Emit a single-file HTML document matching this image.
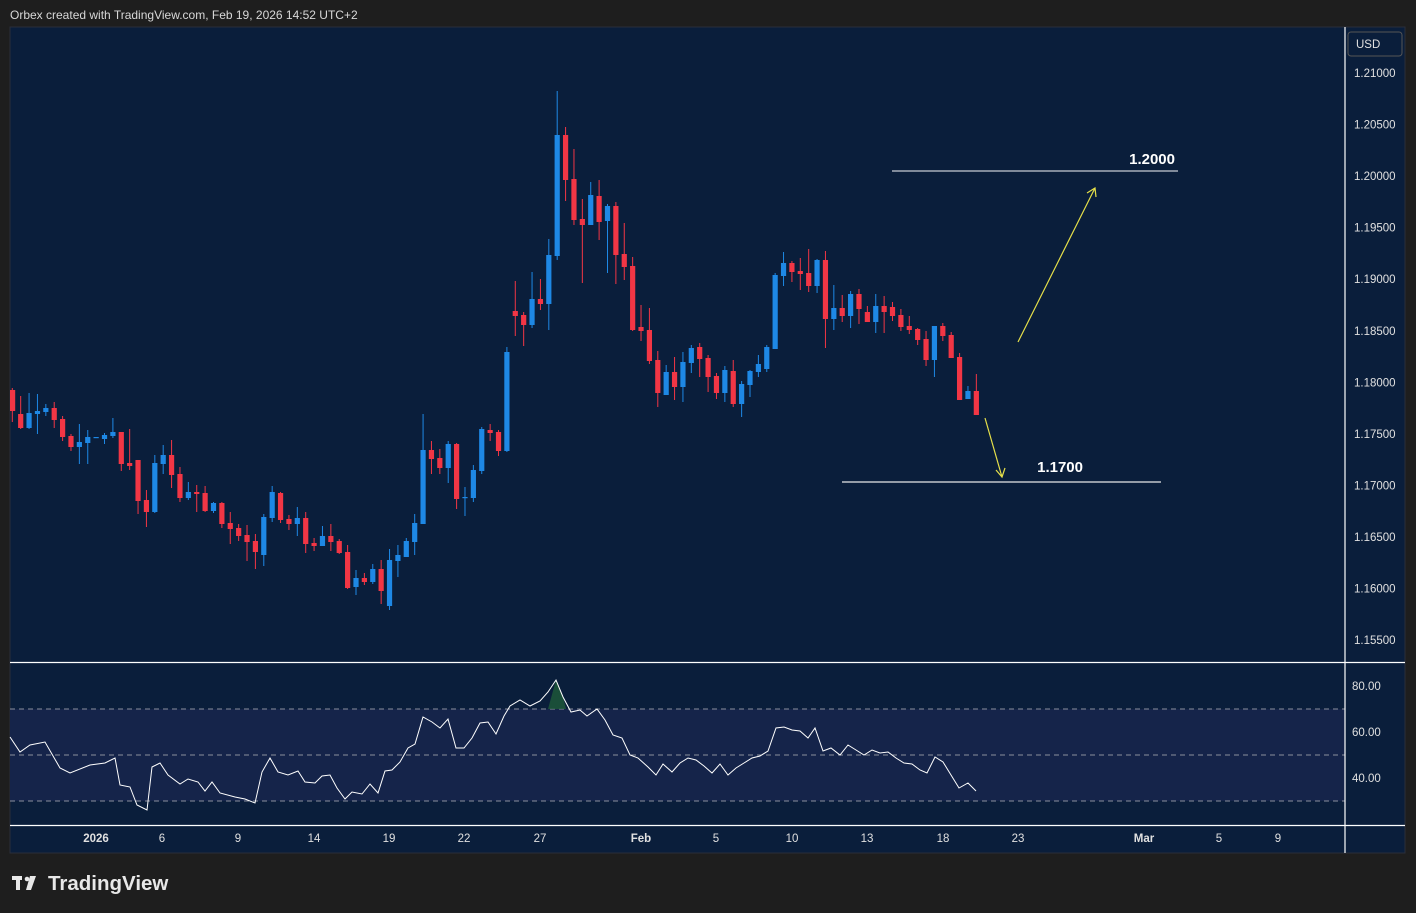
<!DOCTYPE html>
<html><head><meta charset="utf-8"><style>
html,body{margin:0;padding:0;background:#1e1e1e;width:1416px;height:913px;overflow:hidden;font-family:"Liberation Sans",sans-serif}
</style></head><body>
<svg id="s" width="1416" height="913" xmlns="http://www.w3.org/2000/svg" style="position:absolute;left:0;top:0">
<rect x="0" y="0" width="1416" height="913" fill="#1e1e1e"/>
<text x="10" y="19" fill="#d8d8d8" font-size="12" font-family="Liberation Sans, sans-serif">Orbex created with TradingView.com, Feb 19, 2026 14:52 UTC+2</text>
<rect x="10" y="27" width="1395" height="826" fill="#0a1e3b" stroke="#2a2e39" stroke-width="1"/>
<rect x="10" y="709" width="1335" height="92" fill="#15244a"/>
<g id="g"></g>
</svg>
<script>
var g=document.getElementById('g'),h='';
var C=[['R',388,390,411,422],['R',396,414,428,429],['B',393,413,428,429],['B',394,411,414,434],['B',404,408,412,416],['R',402,408,420,428],['R',416,419,437,441],['R',434,436,447,451],['B',424,442,447,464],['B',430,437,443,464],['B',437,437,438,438],['B',433,435,439,444],['B',418,432,436,438],['R',432,432,464,471],['R',429,463,466,470],['R',460,460,501,514],['R',490,500,512,527],['B',455,463,512,513],['B',445,455,464,474],['R',440,455,475,488],['R',467,474,498,502],['B',482,492,498,500],['R',485,492,494,512],['R',486,493,511,512],['B',502,503,511,513],['R',502,503,524,528],['R',512,523,529,544],['R',524,528,536,541],['R',525,535,542,561],['R',534,541,552,569],
['B',514,517,555,566],['B',486,492,518,522],['R',492,493,520,523],['R',515,519,524,530],['B',507,518,524,536],['R',512,518,544,553],['R',538,543,546,551],['B',526,536,546,546],['R',524,536,542,551],['R',539,541,553,554],['R',545,552,588,589],['B',570,578,587,595],['R',573,578,582,585],['B',564,569,582,584],['R',560,569,591,604],['B',549,560,606,610],['B',545,555,561,577],['B',538,541,557,557],['B',514,523,542,555],['B',414,450,524,524],['R',441,450,459,474],['R',449,458,468,474],['B',441,444,468,483],['R',443,444,499,509],['B',487,497,498,516],['B',465,470,498,502],['B',427,429,471,474],['R',424,430,433,441],['R',430,432,451,456],['B',347,352,451,452],
['R',281,311,316,336],['R',312,315,325,346],['B',272,299,325,328],['R',279,299,304,310],['B',239,255,304,330],['B',91,135,256,260],['R',127,135,180,201],['R',149,179,220,225],['R',199,219,225,283],['B',182,195,225,225],['R',180,196,222,240],['B',204,206,221,273],['R',202,206,255,284],['R',223,254,267,280],['R',257,266,330,331],['R',305,327,331,341],['R',308,330,361,364],['R',351,360,393,407],['B',365,372,395,395],['R',357,372,387,400],['B',352,362,387,402],['B',345,348,363,373],['R',343,347,359,377],['R',355,358,377,392],['R',373,376,393,399],['B',366,370,393,402],['R',360,371,404,407],['B',381,384,404,417],['B',370,371,385,397],['B',355,364,372,377],['B',345,347,369,372],['B',273,275,349,349],['B',252,263,276,286],['R',261,263,272,282],['R',258,271,274,290],['R',249,273,286,292],['B',259,260,286,293],['R',251,260,319,348],['B',285,308,319,330],
['R',295,308,316,322],['B',291,294,316,328],['R',289,294,309,324],['R',306,312,322,322],['B',294,306,322,333],['R',296,306,312,333],['R',302,307,316,321],['R',309,315,327,331],['R',316,326,330,334],['R',328,329,340,345],['R',331,339,360,366],['B',326,326,360,377],['R',323,326,336,341],['R',332,335,358,358],['R',353,357,400,400],['B',386,391,399,399],['R',374,391,415,415]];
for(var i=0;i<C.length;i++){var c=C[i],x=12.3+i*8.383,col=c[0]=='R'?'#f23645':'#1e88e5';
if(x<12)continue;
h+='<line x1="'+x+'" x2="'+x+'" y1="'+c[1]+'" y2="'+c[4]+'" stroke="'+col+'" stroke-width="1"/>';
var bh=Math.max(1.2,c[3]-c[2]);h+='<rect x="'+(Math.max(10,x-2.6))+'" y="'+c[2]+'" width="5.2" height="'+bh+'" fill="'+col+'"/>';}
var P=['1.21000','1.20500','1.20000','1.19500','1.19000','1.18500','1.18000','1.17500','1.17000','1.16500','1.16000','1.15500'];
for(var k=0;k<P.length;k++)h+='<text x="1354" y="'+(77+k*51.55)+'" fill="#e0e0e0" font-size="11.5">'+P[k]+'</text>';
h+='<rect x="1348" y="32" width="54" height="24" rx="3" fill="#0a1e3b" stroke="#555" /><text x="1356" y="48" fill="#e0e0e0" font-size="11.5">USD</text>';
[[686,'80.00'],[732,'60.00'],[778,'40.00']].forEach(function(a){h+='<text x="1352" y="'+(a[0]+4)+'" fill="#e0e0e0" font-size="11.5">'+a[1]+'</text>';});
[709,755,801].forEach(function(y){h+='<line x1="10" x2="1345" y1="'+y+'" y2="'+y+'" stroke="#8a8f9c" stroke-dasharray="5,4" stroke-width="1"/>';});
h+='<polygon points="548,709 556,680 563,697 566,709" fill="#1e5a3a" opacity="0.8"/>';
var R=[10,737,20,752,30,745,45,742,60,768,70,773,90,765,105,763,115,758,120,785,130,787,137,805,147,810,152,767,160,763,168,775,180,784,188,779,198,782,205,791,212,782,220,793,235,797,245,799,255,803,262,772,270,758,278,772,288,775,298,771,305,782,315,783,322,776,330,775,337,788,345,799,352,792,362,794,370,784,378,793,385,771,392,770,400,762,408,748,415,744,423,717,432,722,440,728,448,719,456,748,464,748,472,738,480,723,488,722,496,734,504,716,510,706,520,700,530,706,540,701,548,692,556,680,563,697,571,712,580,710,587,716,597,709,605,720,613,735,622,738,630,755,638,758,648,767,656,775,663,764,672,772,680,763,688,758,696,760,704,766,712,773,720,764,728,775,736,768,744,763,752,758,760,756,768,751,776,728,784,727,792,730,800,731,808,738,815,728,823,751,831,748,840,755,848,745,856,750,864,755,872,750,880,753,888,752,896,758,904,763,912,764,920,770,927,773,935,757,943,762,951,775,959,788,968,783,976,791];
var pts=[];for(var j=0;j<R.length;j+=2)pts.push(R[j]+','+R[j+1]);
h+='<polyline points="'+pts.join(' ')+'" fill="none" stroke="#ffffff" stroke-width="1"/>';
h+='<line x1="1345" x2="1345" y1="27" y2="853" stroke="#ffffff" stroke-width="1.2"/>';
h+='<line x1="10" x2="1405" y1="662.5" y2="662.5" stroke="#ffffff" stroke-width="1.2"/>';
h+='<line x1="10" x2="1405" y1="825.5" y2="825.5" stroke="#ffffff" stroke-width="1.2"/>';
[[96,'2026',1],[162,'6'],[238,'9'],[314,'14'],[389,'19'],[464,'22'],[540,'27'],[641,'Feb',1],[716,'5'],[792,'10'],[867,'13'],[943,'18'],[1018,'23'],[1144,'Mar',1],[1219,'5'],[1278,'9']].forEach(function(a){h+='<text x="'+a[0]+'" y="842" text-anchor="middle" fill="#e0e0e0" font-size="11.5" font-weight="'+(a[2]?'bold':'normal')+'">'+a[1]+'</text>';});
h+='<line x1="892" x2="1178" y1="171" y2="171" stroke="#c8ccd4" stroke-width="1.3"/><text x="1175" y="164" text-anchor="end" fill="#ffffff" font-size="15" font-weight="bold">1.2000</text>';
h+='<line x1="842" x2="1161" y1="482" y2="482" stroke="#e8e8e8" stroke-width="1.3"/><text x="1083" y="472" text-anchor="end" fill="#ffffff" font-size="15" font-weight="bold">1.1700</text>';
h+='<line x1="1018" y1="342" x2="1095" y2="188" stroke="#e6e04a" stroke-width="1.2"/><polyline points="1087,193 1095,188 1096,197" fill="none" stroke="#e6e04a" stroke-width="1.2"/>';
h+='<line x1="985" y1="418" x2="1002" y2="477" stroke="#e6e04a" stroke-width="1.2"/><polyline points="996,470 1002,477 1005,468" fill="none" stroke="#e6e04a" stroke-width="1.2"/>';
h+='<rect x="12" y="876" width="10" height="4" fill="#e8e8e8"/><rect x="16" y="876" width="4" height="14" fill="#e8e8e8"/><circle cx="27" cy="879" r="2.3" fill="#e8e8e8"/><polygon points="30,876 36,876 31,890 26,890" fill="#e8e8e8"/>';
h+='<text x="48" y="890" fill="#e8e8e8" font-size="20.5" font-weight="bold">TradingView</text>';
g.innerHTML=h;
</script>
</body></html>
